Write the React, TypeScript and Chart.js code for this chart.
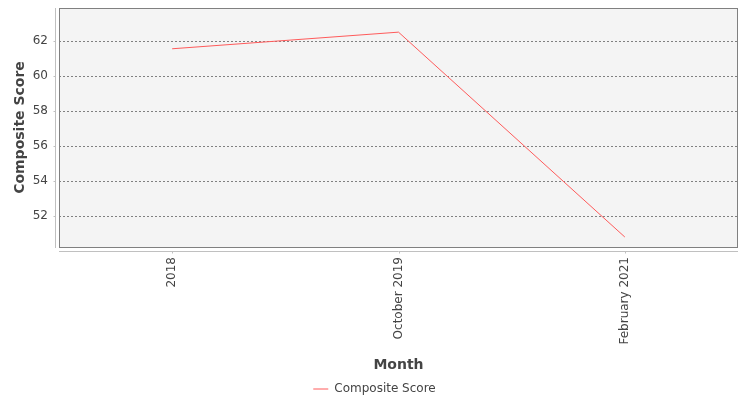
import React, { useEffect, useRef } from "react";
import { Chart, registerables } from "chart.js";

Chart.register(...registerables);

const categories = ["2018", "October 2019", "February 2021"];
const compositeScore = [61.56, 62.51, 50.8];
const yTicks = [52, 54, 56, 58, 60, 62];
const yMin = 50.23;
const yMax = 63.89;

const plotDecor = {
  id: "plotDecor",
  beforeDraw(chart: any) {
    const { ctx, chartArea } = chart;
    const { left, top, right, bottom } = chartArea;
    ctx.save();
    ctx.fillStyle = "#f4f4f4";
    ctx.fillRect(left, top, right - left, bottom - top);
    ctx.restore();
  },
  afterDatasetsDraw(chart: any) {
    const { ctx, chartArea, scales } = chart;
    const { left, top, right, bottom } = chartArea;
    ctx.save();
    ctx.strokeStyle = "#808080";
    ctx.lineWidth = 1;
    ctx.strokeRect(Math.round(left) + 0.5, Math.round(top) + 0.5, Math.round(right - left) - 1, Math.round(bottom - top));
    ctx.strokeStyle = "#c0c0c0";
    ctx.beginPath();
    const ax = Math.round(left) - 4 + 0.5;
    ctx.moveTo(ax, top);
    ctx.lineTo(ax, bottom + 1);
    const ay = Math.round(bottom) + 4 + 0.5;
    ctx.moveTo(left, ay);
    ctx.lineTo(right, ay);
    const ys = scales.y;
    for (const v of yTicks) {
      const py = Math.round(ys.getPixelForValue(v)) + 0.5;
      ctx.moveTo(ax - 2, py);
      ctx.lineTo(ax, py);
    }
    const xs = scales.x;
    for (let i = 0; i < categories.length; i++) {
      const px = Math.round(xs.getPixelForTick(i)) + 0.5;
      ctx.moveTo(px, ay);
      ctx.lineTo(px, ay + 2);
    }
    ctx.stroke();
    ctx.restore();
  },
};

function zeroPadding(scale: any) {
  scale.paddingTop = 0;
  scale.paddingBottom = 0;
  scale.paddingLeft = 0;
  scale.paddingRight = 0;
}

export default function App() {
  const ref = useRef<HTMLCanvasElement | null>(null);
  useEffect(() => {
    if (!ref.current) return;
    const chart = new Chart(ref.current, {
      type: "line",
      data: {
        labels: categories,
        datasets: [
          {
            label: "Composite Score",
            data: compositeScore,
            borderColor: "#ff5b5b",
            backgroundColor: "#ff5b5b",
            borderWidth: 1,
            pointRadius: 0,
            pointStyle: "line",
            tension: 0,
            fill: false,
          },
        ],
      },
      options: {
        animation: false,
        responsive: false,
        maintainAspectRatio: false,
        layout: { padding: { top: 8, right: 12, left: 11, bottom: 0 } },
        plugins: {
          legend: {
            position: "bottom",
            labels: {
              usePointStyle: true,
              pointStyleWidth: 15,
              boxHeight: 12,
              padding: 8,
              color: "#444444",
              font: { family: "DejaVu Sans", size: 12 },
            },
          },
          tooltip: { enabled: false },
        },
        scales: {
          x: {
            type: "category",
            offset: true,
            grid: { display: false, drawTicks: false },
            border: { display: false },
            ticks: {
              minRotation: 90,
              maxRotation: 90,
              padding: 10,
              color: "#444444",
              font: { family: "DejaVu Sans", size: 12 },
            },
            title: {
              display: true,
              text: "Month",
              color: "#444444",
              font: { family: "DejaVu Sans", size: 14, weight: "bold" },
              padding: { top: 0, bottom: 1 },
            },
            afterFit(scale: any) {
              scale.height = 128;
              zeroPadding(scale);
            },
          },
          y: {
            type: "linear",
            min: yMin,
            max: yMax,
            grid: {
              color: "#808080",
              lineWidth: 1,
              drawTicks: false,
            },
            border: { display: false, dash: [2, 2] },
            ticks: {
              padding: 11,
              color: "#444444",
              font: { family: "DejaVu Sans", size: 12 },
            },
            afterBuildTicks(scale: any) {
              scale.ticks = yTicks.map((v) => ({ value: v }));
            },
            title: {
              display: true,
              text: "Composite Score",
              color: "#444444",
              font: { family: "DejaVu Sans", size: 14, weight: "bold" },
              padding: { top: 1, bottom: 0 },
            },
            afterFit(scale: any) {
              scale.width = 48;
              zeroPadding(scale);
            },
          },
        },
      },
      plugins: [plotDecor],
    } as any);
    return () => chart.destroy();
  }, []);
  return (
    <div style={{ position: "fixed", left: 0, top: 0, width: 750, height: 405, background: "#ffffff" }}>
      <canvas ref={ref} width={750} height={405} style={{ display: "block", width: 750, height: 405 }} />
    </div>
  );
}
